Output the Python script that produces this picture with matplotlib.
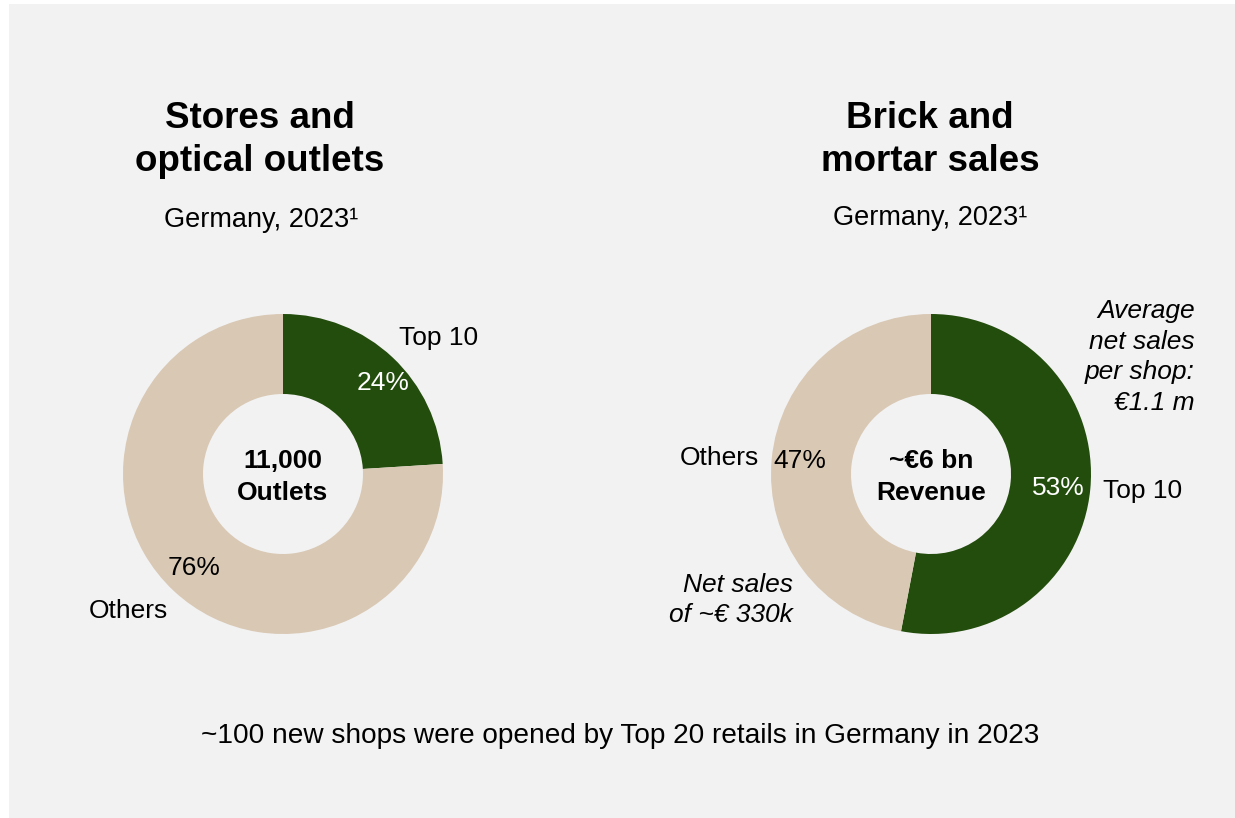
import matplotlib
matplotlib.use("Agg")
import matplotlib.pyplot as plt
from matplotlib.patches import Rectangle

plt.rcParams['font.family'] = ['Liberation Sans', 'DejaVu Sans']

# Data
segments = ["Top 10", "Others"]
outlets_share = [24, 76]
sales_share = [53, 47]
outlets_total = "11,000\nOutlets"
sales_total = "~€6 bn\nRevenue"
colors = ["#234d0c", "#d9c8b4"]

W, H = 1235, 818
fig = plt.figure(figsize=(W / 100, H / 100), dpi=100)
fig.patch.set_facecolor("white")
ax = fig.add_axes([0, 0, 1, 1])


def Y(py):
    return H - py


ax.add_patch(Rectangle((9, 0), W - 9, H - 4, facecolor="#f2f2f2",
                       edgecolor="none", zorder=0))

R = 160
RING = 80
left_c = (283, Y(474))
right_c = (931, Y(474))

for center, vals in ((left_c, outlets_share), (right_c, sales_share)):
    ax.pie(vals, colors=colors, startangle=90, counterclock=False,
           radius=R, center=center, frame=True,
           wedgeprops=dict(width=RING, edgecolor="none"))

ax.set_xlim(0, W)
ax.set_ylim(0, H)
ax.axis("off")

txt = dict(ha="center", va="center", color="black", fontsize=19)

# Titles and subtitles
ax.text(260, Y(140), "Stores and\noptical outlets", fontsize=26.5,
        fontweight="bold", ha="center", va="center", linespacing=1.28)
ax.text(930, Y(140), "Brick and\nmortar sales", fontsize=26.5,
        fontweight="bold", ha="center", va="center", linespacing=1.28)
ax.text(261, Y(220), "Germany, 2023¹", ha="center", va="center",
        fontsize=19.5)
ax.text(930, Y(218), "Germany, 2023¹", ha="center", va="center",
        fontsize=19.5)

# Left donut labels
ax.text(439, Y(338), segments[0], **txt)
ax.text(383, Y(383), f"{outlets_share[0]}%", ha="center", va="center",
        color="white", fontsize=19)
ax.text(194, Y(568), f"{outlets_share[1]}%", **txt)
ax.text(128, Y(611), segments[1], **txt)
ax.text(283, Y(477), outlets_total, ha="center", va="center",
        fontsize=19, fontweight="bold", linespacing=1.37)

# Right donut labels
ax.text(1143, Y(491), segments[0], **txt)
ax.text(1058, Y(488), f"{sales_share[0]}%", ha="center", va="center",
        color="white", fontsize=19)
ax.text(800, Y(461), f"{sales_share[1]}%", **txt)
ax.text(719, Y(458), segments[1], **txt)
ax.text(931, Y(477), sales_total, ha="center", va="center",
        fontsize=19, fontweight="bold", linespacing=1.37)

ax.text(1195, Y(357), "Average\nnet sales\nper shop:\n€1.1 m", ha="right",
        va="center", fontsize=19, style="italic", linespacing=1.36)
ax.text(793, Y(600), "Net sales\nof ~€ 330k", ha="right", va="center",
        fontsize=19, style="italic", linespacing=1.36)

ax.text(620, Y(736), "~100 new shops were opened by Top 20 retails in Germany in 2023",
        ha="center", va="center", color="black", fontsize=20.2)

fig.savefig("out.png", dpi=100, facecolor=fig.get_facecolor())
